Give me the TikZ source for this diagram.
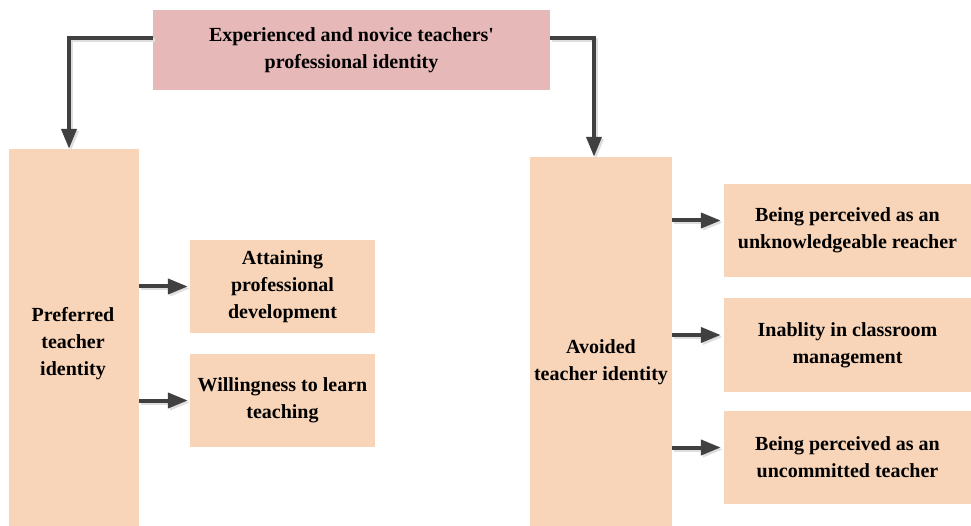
\documentclass[tikz,border=0pt]{standalone}
\usepackage{fontspec}
\setmainfont{Liberation Serif}[BoldFont={Liberation Serif Bold},Ligatures=TeXOff]
\usetikzlibrary{arrows.meta}
\definecolor{pinkbox}{HTML}{E6B8B7}
\definecolor{peach}{HTML}{F8D5B8}
\definecolor{arr}{HTML}{404040}
\newcommand\drawmyconns[1]{%
\draw[#1] ([yshift=12pt]top.west) -| ([xshift=-5pt]pref.north);
\draw[#1] ([yshift=12pt]top.east) -| ([xshift=-7pt]avo.north);
\draw[#1] (pref.east |- att.west) -- ([xshift=-2pt]att.west);
\draw[#1] (pref.east |- will.west) -- ([xshift=-2pt]will.west);
\draw[#1] ([yshift=10pt]avo.east |- b1.west) -- ([xshift=-3pt,yshift=10pt]b1.west);
\draw[#1] ([yshift=10pt]avo.east |- b2.west) -- ([xshift=-3pt,yshift=10pt]b2.west);
\draw[#1] ([yshift=10pt]avo.east |- b3.west) -- ([xshift=-3pt,yshift=10pt]b3.west);}
\begin{document}
\begin{tikzpicture}[x=1pt,y=-1pt,
  box/.style={fill=peach, draw=none, inner sep=0pt, align=center, font=\rmfamily\bfseries\fontsize{20}{27}\selectfont},
  txt/.style={inner sep=0pt, align=center, font=\rmfamily\bfseries\fontsize{20}{27}\selectfont},
  conn/.style={draw=arr, line width=4pt, -{Triangle[length=20pt,width=15pt]}},
  shad/.style={draw=black!13, line width=4pt, -{Triangle[length=20pt,width=15pt]}}]
\useasboundingbox (0,0) rectangle (971,526);
\node[box, fill=pinkbox, minimum width=397pt, minimum height=80pt] (top) at (351.5,50) {Experienced and novice teachers'\\professional identity};
\node[box, minimum width=130pt, minimum height=377pt] (pref) at (74,337.5) {};
\node[txt] (preftxt) at (73,344) {Preferred\\teacher\\identity};
\node[box, minimum width=185pt, minimum height=93pt] (att) at (282.5,286.5) {Attaining\\professional\\development};
\node[box, minimum width=185pt, minimum height=93pt] (will) at (282.5,400.5) {Willingness to learn\\teaching};
\node[box, minimum width=142pt, minimum height=369pt] (avo) at (601,341.5) {};
\node[txt] (avotxt) at (601,362) {Avoided\\teacher identity};
\node[box, minimum width=247pt, minimum height=93pt] (b1) at (847.5,230.5) {Being perceived as an\\unknowledgeable reacher};
\node[box, minimum width=247pt, minimum height=94pt] (b2) at (847.5,345) {Inablity in classroom\\management};
\node[box, minimum width=247pt, minimum height=93pt] (b3) at (847.5,457.5) {Being perceived as an\\uncommitted teacher};
\begin{scope}[transform canvas={shift={(2pt,-2pt)}}]
\drawmyconns{shad}
\end{scope}
\drawmyconns{conn}
\end{tikzpicture}
\end{document}
